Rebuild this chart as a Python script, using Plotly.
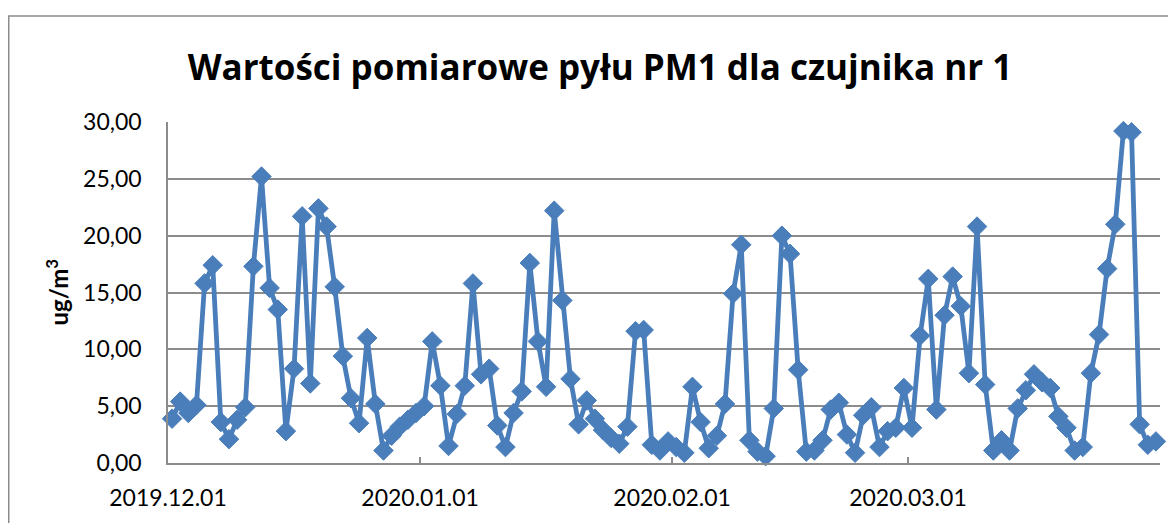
import pandas as pd
import plotly.graph_objects as go

start_date = "2019-12-01"
pm1_values = [
    3.9, 5.4, 4.4, 5.1, 15.8, 17.4, 3.6, 2.1, 3.8, 4.9,
    17.3, 25.2, 15.4, 13.5, 2.8, 8.3, 21.7, 7.0, 22.4, 20.8,
    15.5, 9.4, 5.7, 3.5, 11.0, 5.2, 1.1, 2.4, 3.2, 3.8,
    4.4, 5.0, 10.7, 6.8, 1.5, 4.3, 6.8, 15.8, 7.8, 8.3,
    3.3, 1.4, 4.4, 6.3, 17.6, 10.7, 6.7, 22.2, 14.3, 7.4,
    3.4, 5.5, 3.9, 2.9, 2.2, 1.7, 3.2, 11.6, 11.7, 1.6,
    1.1, 1.9, 1.4, 0.9, 6.7, 3.6, 1.3, 2.4, 5.2, 14.9,
    19.2, 2.0, 1.0, 0.6, 4.8, 20.0, 18.4, 8.2, 1.0, 1.1,
    2.0, 4.7, 5.3, 2.5, 0.9, 4.2, 4.9, 1.4, 2.8, 3.1,
    6.6, 3.1, 11.2, 16.2, 4.7, 13.0, 16.4, 13.8, 7.9, 20.8,
    6.9, 1.1, 2.0, 1.1, 4.8, 6.4, 7.8, 7.1, 6.6, 4.1,
    3.1, 1.1, 1.4, 7.9, 11.3, 17.1, 21.0, 29.2, 29.1, 3.4,
    1.6, 1.9,
]
dates = pd.date_range(start_date, periods=len(pm1_values), freq="D")

tick_dates = ["2019-12-01", "2020-01-01", "2020-02-01", "2020-03-01"]
tick_labels = ["2019.12.01", "2020.01.01", "2020.02.01", "2020.03.01"]
x_range = ["2019-12-01", "2020-04-01"]
y_ticks = [0, 5, 10, 15, 20, 25, 30]

title_text = "Wartości pomiarowe pyłu PM1 dla czujnika nr 1"
y_title = "<b>ug/m<sup>3</sup></b>"

# page body has an 8px margin, so figure coords = screen coords - 8
W, H = 1168, 515
L, R, T, B = 160, 16, 114, 60
pw, ph = W - L - R, H - T - B


def px(xf):
    return (xf - L) / pw


def py(yf):
    return (H - B - yf) / ph


blue = "#4A7EBB"
grid = "#8C8C8C"
font_family = "Lato, 'Open Sans', sans-serif"
title_family = "'Open Sans', Lato, sans-serif"

fig = go.Figure()
fig.add_trace(go.Scatter(
    x=dates, y=pm1_values,
    xperiod=86400000, xperiodalignment="middle",
    mode="lines+markers",
    line=dict(color=blue, width=4.8),
    marker=dict(symbol="diamond", size=15, color=blue, line=dict(color=blue, width=1)),
    cliponaxis=False,
    showlegend=False,
))

fig.update_layout(
    width=W, height=H,
    margin=dict(l=L, r=R, t=T, b=B),
    paper_bgcolor="white", plot_bgcolor="white",
    separators=", ",
    font=dict(family=font_family, color="#000000"),
    title=dict(
        text=title_text,
        x=592 / W, xref="container", xanchor="center",
        y=1 - 60 / H, yref="container", yanchor="middle",
        font=dict(size=35, family=title_family, weight="bold", color="#000000"),
    ),
    xaxis=dict(
        type="date", range=x_range,
        tickvals=tick_dates, ticktext=tick_labels,
        showgrid=False, zeroline=False,
        showline=True, linecolor=grid, linewidth=1.5,
        ticks="inside", ticklen=6, tickcolor=grid, tickwidth=1.5,
        minor=dict(ticks="inside", ticklen=6, tickcolor=grid, tickwidth=1.5,
                   dtick="M1", tick0="2019-12-01", showgrid=False),
        tickfont=dict(size=23, family=font_family, color="#000000"),
        ticklabelstandoff=14,
    ),
    yaxis=dict(
        range=[0, 30], tickvals=y_ticks, tickformat=".2f",
        showgrid=True, gridcolor=grid, gridwidth=1.5,
        zeroline=False,
        showline=True, linecolor=grid, linewidth=1.5,
        ticks="",
        tickfont=dict(size=23, family=font_family, color="#000000"),
        ticklabelstandoff=20,
    ),
    annotations=[dict(
        text=y_title, xref="paper", yref="paper",
        x=px(48), y=0.5, xanchor="center", yanchor="middle",
        textangle=-90, showarrow=False,
        font=dict(size=24, family=font_family, color="#000000"),
    )],
    shapes=[dict(
        type="rect", xref="paper", yref="paper",
        x0=px(0.75), x1=px(W + 20),
        y0=py(H + 20), y1=py(8),
        line=dict(color="#8C8C8C", width=1.5), fillcolor="rgba(0,0,0,0)",
        layer="below",
    )],
)

fig.write_html("out.html")
